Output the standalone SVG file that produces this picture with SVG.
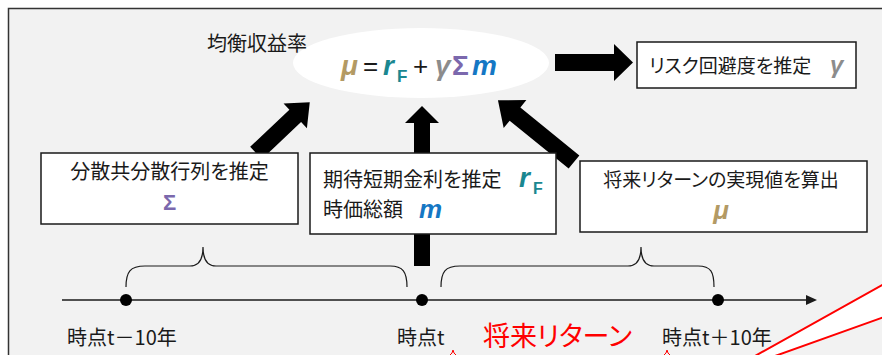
<svg xmlns="http://www.w3.org/2000/svg" width="882" height="355" viewBox="0 0 882 355">
<style>
.jp{font-family:"Noto Sans CJK JP","Noto Sans",sans-serif;font-size:20px;fill:#1a1a1a;font-feature-settings:"palt" 1}
.math{font-family:"Liberation Sans","DejaVu Sans",sans-serif;font-weight:bold;font-style:italic}
.op{font-family:"Liberation Sans","DejaVu Sans",sans-serif;fill:#1a1a1a}
.box{fill:#ffffff;stroke:#1a1a1a;stroke-width:1.5}
.blk{fill:#000000}
.mu{fill:#b39a64}.rf{fill:#1a8790}.ga{fill:#8c8c8c}.si{fill:#7b68ad}.mm{fill:#1577c4}
.brace{fill:none;stroke:#1a1a1a;stroke-width:1.2}
</style>
<rect x="8.5" y="8.5" width="900" height="400" fill="#f2f2f2" stroke="#333333" stroke-width="1.5"/>

<g id="equilibrium">
<ellipse cx="421" cy="63" rx="128" ry="35" fill="#ffffff"/>
<text class="jp" x="207" y="51">均衡収益率</text>
<text class="math mu" x="341" y="75" font-size="28">μ</text>
<text class="op" x="363" y="75" font-size="26">=</text>
<text class="math rf" x="383" y="75" font-size="28">r</text>
<text class="rf" x="397" y="82" font-size="17" font-family="Liberation Sans,sans-serif" font-weight="bold">F</text>
<text class="op" x="413" y="75" font-size="26">+</text>
<text class="math ga" x="435" y="75" font-size="28">γ</text>
<text class="si" x="452" y="75" font-size="28" font-family="Liberation Sans,sans-serif" font-weight="bold">Σ</text>
<text class="math mm" x="472" y="75" font-size="28">m</text>
</g>

<g id="connectors">
<polygon class="blk" transform="translate(555,62.5)" points="0,-8.5 59,-8.5 59,-18.5 78,0 59,18.5 59,8.5 0,8.5"/>
<polygon class="blk" transform="translate(256,153) rotate(-43.4)" points="0,-8.5 54,-8.5 54,-17 74,0 54,17 54,8.5 0,8.5"/>
<polygon class="blk" transform="translate(422,266) rotate(-90)" points="0,-8 143,-8 143,-17 160,0 143,17 143,8 0,8"/>
<polygon class="blk" transform="translate(574,162) rotate(-140.9)" points="0,-8.5 76,-8.5 76,-18 98,0 76,18 76,8.5 0,8.5"/>
</g>

<g id="risk">
<rect class="box" x="637" y="42" width="219" height="46"/>
<text class="jp" x="649" y="73" style="font-size:19px">リスク回避度を推定</text>
<text class="math ga" x="830" y="73" font-size="24">γ</text>
</g>

<g id="cov">
<rect class="box" x="41" y="153" width="257" height="71"/>
<text class="jp" x="169.5" y="179" text-anchor="middle">分散共分散行列を推定</text>
<text class="si" x="169.5" y="210" text-anchor="middle" font-size="22" font-family="Liberation Sans,sans-serif" font-weight="bold">Σ</text>
</g>

<g id="rate">
<rect class="box" x="310" y="153" width="246" height="81"/>
<text class="jp" x="323" y="187">期待短期金利を推定</text>
<text class="math rf" x="519" y="187" font-size="28">r</text>
<text class="rf" x="533" y="194" font-size="16" font-family="Liberation Sans,sans-serif" font-weight="bold">F</text>
<text class="jp" x="323" y="217">時価総額</text>
<text class="math mm" x="419" y="218" font-size="26">m</text>
</g>

<g id="future">
<rect class="box" x="580" y="161" width="287" height="71"/>
<text class="jp" x="721" y="187" text-anchor="middle" style="font-size:19px">将来リターンの実現値を算出</text>
<text class="math mu" x="721" y="219" text-anchor="middle" font-size="26">μ</text>
</g>

<g id="timeline">
<line x1="62" y1="300" x2="808" y2="300" stroke="#1a1a1a" stroke-width="1.3"/>
<polygon points="806,295 817,300 806,305" fill="#1a1a1a"/>
<circle cx="126" cy="300" r="6" fill="#000"/>
<circle cx="422" cy="300" r="6" fill="#000"/>
<circle cx="718" cy="300" r="6" fill="#000"/>
<path class="brace" d="M126,287 C126,272 130,266 145,266 L190,266 C198,266 203,260 203,247 C203,260 208,266 216,266 L390,266 C403,266 407,272 407,287"/>
<path class="brace" d="M441,287 C441,272 445,266 460,266 L628,266 C636,266 641,260 641,247 C641,260 646,266 654,266 L698,266 C711,266 714,272 714,287"/>
<text class="jp" x="67" y="345">時点t－10年</text>
<text class="jp" x="397" y="345">時点t</text>
<text class="jp" x="483" y="346" style="font-size:27px;fill:#ff0000">将来リターン</text>
<text class="jp" x="662" y="345">時点t＋10年</text>
</g>

<g id="callout">
<polygon points="755,356 884,284 884,317 775,356" fill="#ffffff" stroke="#ff0000" stroke-width="2"/>
<path d="M449,356 Q453,353 453,350 Q453,353 457,356" fill="none" stroke="#ff0000" stroke-width="1"/>
<path d="M663,356 Q667,353 667,350 Q667,353 671,356" fill="none" stroke="#ff0000" stroke-width="1"/>
</g>
</svg>
